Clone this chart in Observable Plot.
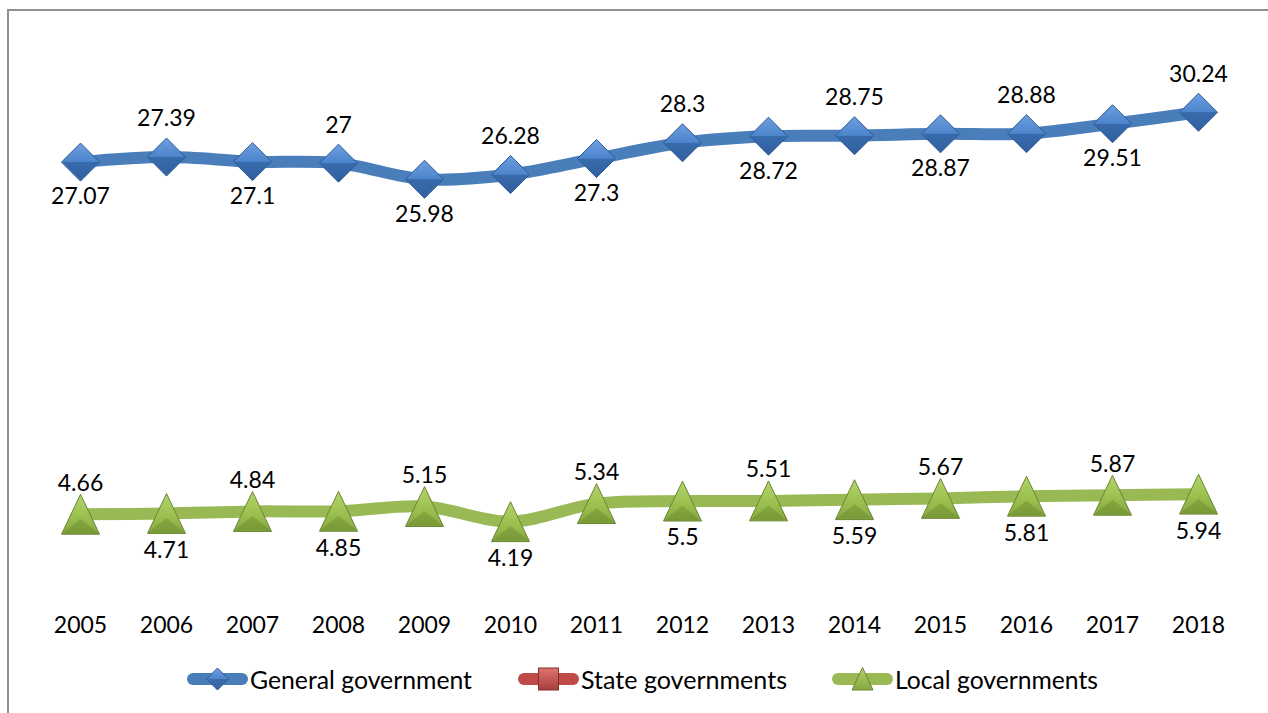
<!DOCTYPE html>
<html><head><meta charset="utf-8">
<script src="https://cdn.jsdelivr.net/npm/d3@7"></script>
<script src="https://cdn.jsdelivr.net/npm/@observablehq/plot@0.6"></script>
<style>
html,body{margin:0;padding:0;background:#fff;overflow:hidden;width:1268px;height:713px;}
#wrap{position:relative;width:1268px;height:713px;font-family:Lato,"Open Sans",sans-serif;overflow:hidden;}
#frame{position:absolute;left:7px;top:9px;width:1300px;height:800px;border:2px solid #8f8f8f;box-sizing:border-box;}
#chart{position:absolute;left:0;top:0;}
.leg{position:absolute;top:666px;height:26px;display:flex;align-items:center;font-size:25px;color:#000;white-space:nowrap;}
.leg svg{margin-right:2px;}
.leg span{display:inline-block;transform-origin:0 50%;}
</style></head><body>
<div id="wrap"><div id="frame"></div><div id="chart"></div><div id="legend"></div></div>
<script>
const years = [2005, 2006, 2007, 2008, 2009, 2010, 2011, 2012, 2013, 2014, 2015, 2016, 2017, 2018];
const generalGovernment = [27.07, 27.39, 27.1, 27, 25.98, 26.28, 27.3, 28.3, 28.72, 28.75, 28.87, 28.88, 29.51, 30.24];
const stateGovernments = []; // listed in the legend, no values drawn
const localGovernments = [4.66, 4.71, 4.84, 4.85, 5.15, 4.19, 5.34, 5.5, 5.51, 5.59, 5.67, 5.81, 5.87, 5.94];
const seriesNames = ["General government", "State governments", "Local governments"];
const seriesColors = ["#4A7EBB", "#BE4B48", "#98B954"];

const gen = years.map((year, i) => ({year, value: generalGovernment[i], i}));
const loc = years.map((year, i) => ({year, value: localGovernments[i], i}));

// custom marker shapes (size = PI r^2)
const diamond = {draw(ctx, size) { const r = Math.sqrt(size / Math.PI);
  ctx.moveTo(0, -r); ctx.lineTo(r, 0); ctx.lineTo(0, r); ctx.lineTo(-r, 0); ctx.closePath(); }};
const diamondLow = {draw(ctx, size) { const r = Math.sqrt(size / Math.PI);
  ctx.moveTo(-r, 0); ctx.lineTo(r, 0); ctx.lineTo(0, r); ctx.closePath(); }};
const tri = {draw(ctx, size) { const r = Math.sqrt(size / Math.PI);
  ctx.moveTo(0, -r * 1.05); ctx.lineTo(r, r * 1.05); ctx.lineTo(-r, r * 1.05); ctx.closePath(); }};
const triLow = {draw(ctx, size) { const r = Math.sqrt(size / Math.PI);
  ctx.moveTo(0, r * 0.25); ctx.lineTo(r, r * 1.05); ctx.lineTo(-r, r * 1.05); ctx.closePath(); }};

const fmt = v => String(v);
const W = 1268, H = 650;

const chart = Plot.plot({
  width: W, height: H,
  marginLeft: 80, marginRight: 70, marginTop: 37, marginBottom: 63,
  style: {fontFamily: "Lato, 'Open Sans', sans-serif", fontSize: "23px", color: "#000", background: "transparent"},
  x: {domain: [2005, 2018]},
  y: {domain: [0, 35], axis: null},
  marks: [
    Plot.axisX({ticks: years, tickFormat: "d", tickSize: 0, tickPadding: 29, label: null}),
    Plot.line(gen, {x: "year", y: "value", stroke: seriesColors[0], strokeWidth: 12, curve: "catmull-rom"}),
    Plot.line(loc, {x: "year", y: "value", stroke: seriesColors[2], strokeWidth: 12, curve: "catmull-rom"}),
    Plot.dot(gen, {x: "year", y: "value", symbol: diamond, r: 19, fill: "url(#gBlue)", stroke: "#2C5A93", strokeWidth: 1}),
    Plot.dot(gen, {x: "year", y: "value", symbol: diamondLow, r: 18, fill: "#23508a", fillOpacity: 0.25, stroke: "none"}),
    Plot.dot(loc, {x: "year", y: "value", symbol: tri, r: 19, fill: "url(#gGreen)", stroke: "#6A8434", strokeWidth: 1}),
    Plot.dot(loc, {x: "year", y: "value", symbol: triLow, r: 18, fill: "#4d6a1c", fillOpacity: 0.25, stroke: "none"}),
    Plot.text(gen.filter(d => d.i % 2 === 1), {x: "year", y: "value", text: d => fmt(d.value), dy: -38, fill: "#000"}),
    Plot.text(gen.filter(d => d.i % 2 === 0), {x: "year", y: "value", text: d => fmt(d.value), dy: 35, fill: "#000"}),
    Plot.text(loc.filter(d => d.i % 2 === 0), {x: "year", y: "value", text: d => fmt(d.value), dy: -31, fill: "#000"}),
    Plot.text(loc.filter(d => d.i % 2 === 1), {x: "year", y: "value", text: d => fmt(d.value), dy: 37, fill: "#000"})
  ]
});

const defs = d3.select(chart).insert("defs", ":first-child");
function grad(id, stops) {
  const g = defs.append("linearGradient").attr("id", id).attr("x1", 0).attr("y1", 0).attr("x2", 0).attr("y2", 1);
  stops.forEach(([o, c]) => g.append("stop").attr("offset", o).attr("stop-color", c));
}
grad("gBlue", [[0, "#6E9FE0"], [0.5, "#4C84CB"], [0.5, "#3F74B8"], [1, "#3565A5"]]);
grad("gGreen", [[0, "#B3D56C"], [0.55, "#9CC04F"], [1, "#86A740"]]);
document.getElementById("chart").appendChild(chart);

// legend
const legendX = [187, 518, 832];
const legendTextWidth = [222, 206, 203];
const legend = document.getElementById("legend");
seriesNames.forEach((name, k) => {
  const item = document.createElement("div");
  item.className = "leg";
  item.style.left = legendX[k] + "px";
  let marker;
  if (k === 0) marker = `<path d="M30.5,2 L41.5,13 L30.5,24 L19.5,13Z" fill="url(#lgB)" stroke="#2C5A93"/>`;
  else if (k === 1) marker = `<rect x="20.5" y="2" width="20" height="22" fill="url(#lgR)" stroke="#7E2E2C"/>`;
  else marker = `<path d="M30.5,1.5 L41,24 L20,24Z" fill="url(#lgG)" stroke="#6A8434"/>`;
  item.innerHTML = `<svg width="61" height="26">
    <defs>
      <linearGradient id="lgB" x1="0" y1="0" x2="0" y2="1"><stop offset="0" stop-color="#6E9FE0"/><stop offset="0.5" stop-color="#4C84CB"/><stop offset="0.5" stop-color="#3A6DAE"/><stop offset="1" stop-color="#3565A5"/></linearGradient>
      <linearGradient id="lgR" x1="0" y1="0" x2="0" y2="1"><stop offset="0" stop-color="#E07370"/><stop offset="1" stop-color="#A8403D"/></linearGradient>
      <linearGradient id="lgG" x1="0" y1="0" x2="0" y2="1"><stop offset="0" stop-color="#B3D56C"/><stop offset="1" stop-color="#86A740"/></linearGradient>
    </defs>
    <line x1="6" y1="13" x2="55" y2="13" stroke="${seriesColors[k]}" stroke-width="12" stroke-linecap="round"/>
    ${marker}</svg><span>${name}</span>`;
  legend.appendChild(item);
  const span = item.querySelector("span");
  const w = span.getBoundingClientRect().width;
  if (w > 0) span.style.transform = `scaleX(${legendTextWidth[k] / w})`;
});
</script>
</body></html>
